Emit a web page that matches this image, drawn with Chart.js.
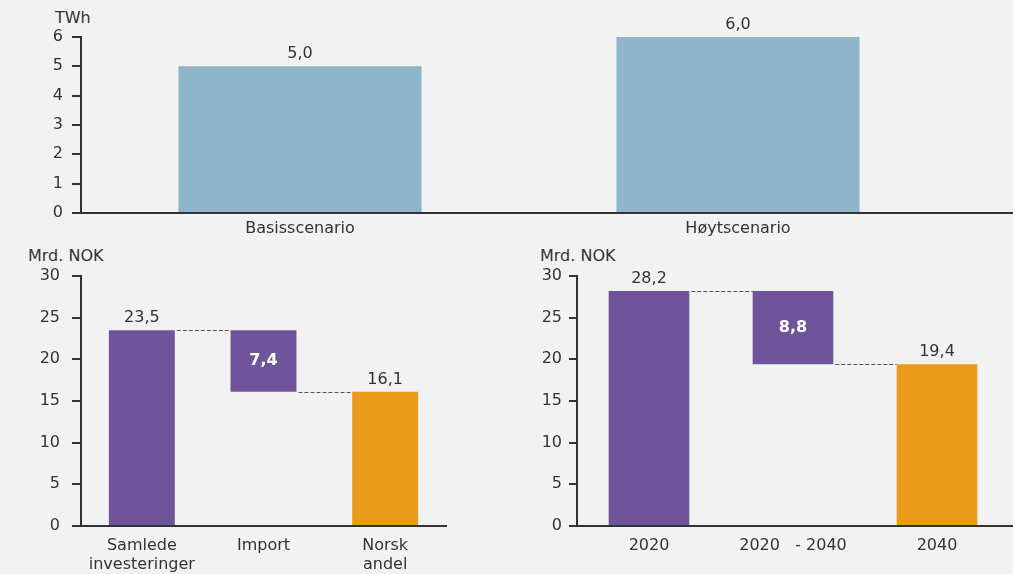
<!DOCTYPE html>
<html>
<head>
<meta charset="utf-8">
<script src="https://cdn.jsdelivr.net/npm/chart.js@4/dist/chart.umd.min.js"></script>
<style>
  body { margin: 0; background: #f1f2f1; font-family: "DejaVu Sans", sans-serif; color: #333; }
  #wrap { position: relative; width: 1013px; height: 574px; overflow: hidden; }
  canvas { position: absolute; }
  .unit { position: absolute; font-size: 16px; line-height: 19px; color: #333; }
</style>
</head>
<body>
<div id="wrap">
  <div class="unit" style="left:55px; top:8px">TWh</div>
  <canvas id="energy" width="1013" height="240" style="left:0; top:0"></canvas>
  <div class="unit" style="left:28px; top:246px">Mrd. NOK</div>
  <canvas id="invest" width="470" height="334" style="left:0; top:240px"></canvas>
  <div class="unit" style="left:540px; top:246px">Mrd. NOK</div>
  <canvas id="costs" width="513" height="334" style="left:500px; top:240px"></canvas>
</div>
<script>
const energyLabels = ["Basisscenario", "Høytscenario"];
const energyValues = [5.0, 6.0];

const investLabels = [["Samlede", "investeringer"], "Import", ["Norsk", "andel"]];
const investValues = [23.5, 7.4, 16.1]; // total, import, norsk andel

const costLabels = ["2020", "2020   - 2040", "2040"];
const costValues = [28.2, 8.8, 19.4]; // 2020, change, 2040

const BLUE = "#8fb5cb";
const PURPLE = "#70549b";
const ORANGE = "#eb9b1c";
const INK = "#333333";
const FONT = '"DejaVu Sans", sans-serif';

Chart.defaults.font.family = FONT;
Chart.defaults.font.size = 16;
Chart.defaults.color = INK;

function fmt(v) {
  return v.toFixed(1).replace(".", ",");
}

// start, change, end -> floating bars
function waterfall(vals) {
  return [[0, vals[0]], [vals[0] - vals[1], vals[0]], [0, vals[2]]];
}

// numbers above the bars, the change bar gets a white bold label inside
const valueLabels = {
  id: "valueLabels",
  afterDatasetsDraw(chart, args, opts) {
    const ctx = chart.ctx;
    const bars = chart.getDatasetMeta(0).data;
    ctx.save();
    ctx.textAlign = "center";
    bars.forEach((bar, i) => {
      const v = opts.values[i];
      if (opts.inside === i) {
        ctx.fillStyle = "#fff";
        ctx.font = "bold 16px " + FONT;
        ctx.textBaseline = "middle";
        ctx.fillText(fmt(v), bar.x, (bar.y + bar.base) / 2);
      } else {
        ctx.fillStyle = INK;
        ctx.font = "16px " + FONT;
        ctx.textBaseline = "bottom";
        ctx.fillText(fmt(v), bar.x, bar.y - 4);
      }
    });
    ctx.restore();
  }
};

// dashed lines joining the waterfall steps
const connectors = {
  id: "connectors",
  afterDatasetsDraw(chart, args, opts) {
    if (!opts.levels) return;
    const ctx = chart.ctx;
    const bars = chart.getDatasetMeta(0).data;
    const y = chart.scales.y;
    ctx.save();
    ctx.strokeStyle = "#555";
    ctx.lineWidth = 1;
    ctx.setLineDash([4, 2]);
    opts.levels.forEach((lvl, i) => {
      const a = bars[i], b = bars[i + 1];
      const py = Math.round(y.getPixelForValue(lvl)) + 0.5;
      ctx.beginPath();
      ctx.moveTo(a.x + a.width / 2 + 2, py);
      ctx.lineTo(b.x - b.width / 2, py);
      ctx.stroke();
    });
    ctx.restore();
  }
};

// x axis line runs on to the edge of the canvas
const baseline = {
  id: "baseline",
  afterDraw(chart, args, opts) {
    if (!opts.extend) return;
    const { ctx, chartArea } = chart;
    ctx.save();
    ctx.strokeStyle = INK;
    ctx.lineWidth = 2;
    ctx.beginPath();
    ctx.moveTo(chartArea.right, chartArea.bottom);
    ctx.lineTo(chart.width, chartArea.bottom);
    ctx.stroke();
    ctx.restore();
  }
};

function makeOptions(cfg) {
  return {
    responsive: false,
    animation: false,
    devicePixelRatio: 1,
    layout: { padding: cfg.padding },
    plugins: {
      legend: { display: false },
      tooltip: { enabled: false },
      valueLabels: { values: cfg.values, inside: cfg.inside },
      connectors: { levels: cfg.levels },
      baseline: { extend: cfg.extend }
    },
    scales: {
      x: {
        grid: { display: false, drawTicks: false },
        border: { color: INK, width: 2 },
        ticks: { padding: cfg.xPad, font: { size: 16, lineHeight: 1.2 } },
        afterFit: (s) => { s.height = cfg.xHeight; }
      },
      y: {
        min: 0,
        max: cfg.max,
        ticks: { stepSize: cfg.step, padding: cfg.yPad },
        grid: { drawOnChartArea: false, color: INK, lineWidth: 2, tickLength: cfg.tick },
        border: { color: INK, width: 2 },
        afterFit: (s) => { s.width = cfg.yWidth; }
      }
    }
  };
}

new Chart(document.getElementById("energy"), {
  type: "bar",
  data: {
    labels: energyLabels,
    datasets: [{ data: energyValues, backgroundColor: BLUE, barPercentage: 0.555, categoryPercentage: 1 }]
  },
  options: makeOptions({
    padding: { top: 37, right: 56, left: 0, bottom: 0 },
    values: energyValues, inside: -1, levels: null, extend: true,
    xPad: 6, xHeight: 27, max: 6, step: 1, yPad: 9, tick: 9, yWidth: 81
  }),
  plugins: [valueLabels, connectors, baseline]
});

new Chart(document.getElementById("invest"), {
  type: "bar",
  data: {
    labels: investLabels,
    datasets: [{
      data: waterfall(investValues),
      backgroundColor: [PURPLE, PURPLE, ORANGE],
      barPercentage: 0.542,
      categoryPercentage: 1
    }]
  },
  options: makeOptions({
    padding: { top: 36, right: 24, left: 0, bottom: 0 },
    values: investValues, inside: 1,
    levels: [investValues[0], investValues[0] - investValues[1]], extend: false,
    xPad: 10, xHeight: 48, max: 30, step: 5, yPad: 12, tick: 9, yWidth: 81
  }),
  plugins: [valueLabels, connectors, baseline]
});

new Chart(document.getElementById("costs"), {
  type: "bar",
  data: {
    labels: costLabels,
    datasets: [{
      data: waterfall(costValues),
      backgroundColor: [PURPLE, PURPLE, ORANGE],
      barPercentage: 0.56,
      categoryPercentage: 1
    }]
  },
  options: makeOptions({
    padding: { top: 36, right: 4, left: 0, bottom: 0 },
    values: costValues, inside: 1,
    levels: [costValues[0], costValues[0] - costValues[1]], extend: true,
    xPad: 10, xHeight: 48, max: 30, step: 5, yPad: 7, tick: 8, yWidth: 77
  }),
  plugins: [valueLabels, connectors, baseline]
});
</script>
</body>
</html>
